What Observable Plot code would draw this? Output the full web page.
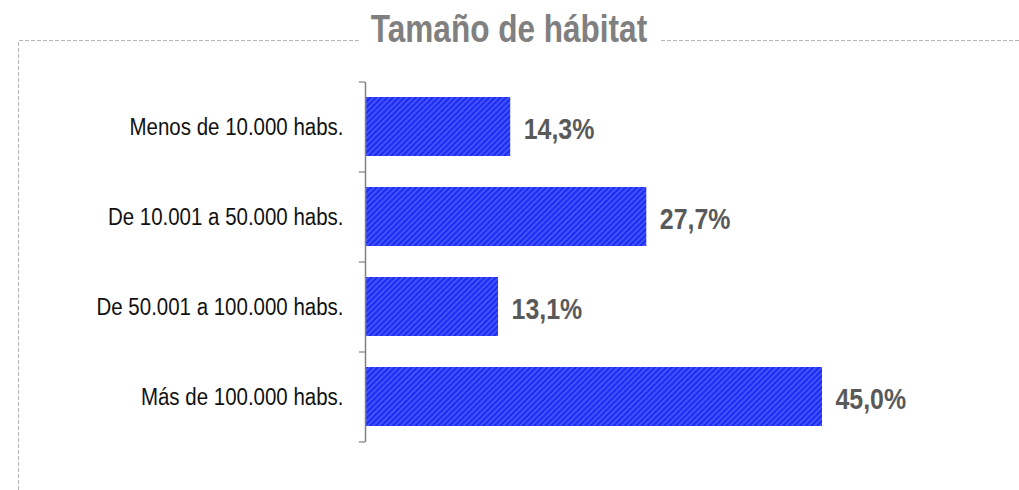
<!DOCTYPE html>
<html>
<head>
<meta charset="utf-8">
<script src="https://cdn.jsdelivr.net/npm/d3@7"></script>
<script src="https://cdn.jsdelivr.net/npm/@observablehq/plot@0.6"></script>
<style>
  html, body { margin: 0; padding: 0; background: #fff; }
  #chart { position: relative; width: 1019px; height: 490px; }
</style>
</head>
<body>
<div id="chart"></div>
<script>
const title = "Tamaño de hábitat";
const categories = ["Menos de 10.000 habs.", "De 10.001 a 50.000 habs.", "De 50.001 a 100.000 habs.", "Más de 100.000 habs."];
const values = [14.3, 27.7, 13.1, 45.0];
const valueLabels = ["14,3%", "27,7%", "13,1%", "45,0%"];

const data = categories.map((c, i) => ({category: c, value: values[i], label: valueLabels[i]}));

const font = "'Liberation Sans', Arial, sans-serif";

const plot = Plot.plot({
  width: 1019,
  height: 490,
  marginTop: 82,
  marginBottom: 48,
  marginLeft: 365,
  marginRight: 197,
  style: {fontFamily: font, background: "transparent", overflow: "visible"},
  x: {domain: [0, 45], axis: null},
  y: {domain: categories, paddingInner: 0.34, paddingOuter: 0.17, label: null},
  marks: [
    Plot.barX(data, {x: "value", y: "category", fill: "url(#stripes)"}),
    Plot.ruleX([0], {stroke: "#808080", strokeWidth: 1.5}),
    // ticks at band boundaries
    Plot.ruleY(categories, {y: d => d, x1: -0.6, x2: 0, dy: -45, stroke: "#808080", strokeWidth: 1.2}),
    Plot.ruleY([categories[categories.length - 1]], {y: d => d, x1: -0.6, x2: 0, dy: 45, stroke: "#808080", strokeWidth: 1.2}),
    Plot.axisY({tickSize: 0, tickPadding: 22, fontSize: 23, fill: "#111", label: null, dy: 1}),
    Plot.text(data, {x: "value", y: "category", text: "label", textAnchor: "start", dx: 13, dy: 2, fontSize: 30, fontWeight: "bold", fill: "#595959"})
  ]
});

document.getElementById("chart").appendChild(plot);

const svg = d3.select(plot);
const defs = svg.insert("defs", ":first-child");
const pat = defs.append("pattern")
  .attr("id", "stripes")
  .attr("patternUnits", "userSpaceOnUse")
  .attr("width", 4).attr("height", 4)
  .attr("patternTransform", "rotate(45)");
pat.append("rect").attr("width", 4).attr("height", 4).attr("fill", "#1d2cf2");
pat.append("rect").attr("width", 1.6).attr("height", 4).attr("fill", "#4a5cff");

// narrow the text horizontally (condensed look)
function squeeze(sel, factor) {
  sel.each(function() {
    const len = this.getComputedTextLength();
    this.setAttribute("textLength", (len * factor).toFixed(2));
    this.setAttribute("lengthAdjust", "spacingAndGlyphs");
  });
}
squeeze(svg.selectAll("g[aria-label='y-axis tick label'] text"), 0.89);
squeeze(svg.selectAll("g[aria-label='text'] text"), 0.83);

// dashed frame and title
const g = svg.append("g");
g.append("path")
  .attr("d", "M18.5,490 L18.5,40.5 L1019,40.5")
  .attr("fill", "none")
  .attr("stroke", "#b4b4b4")
  .attr("stroke-width", 1)
  .attr("stroke-dasharray", "4,2");
const t = g.append("text")
  .attr("x", 509).attr("y", 42)
  .attr("text-anchor", "middle")
  .attr("font-family", font)
  .attr("font-size", 38)
  .attr("font-weight", "bold")
  .attr("fill", "#808080")
  .text(title);
squeeze(t, 0.83);
const bb = t.node().getBBox();
g.insert("rect", "text")
  .attr("x", bb.x - 12).attr("y", bb.y)
  .attr("width", bb.width + 24).attr("height", bb.height)
  .attr("fill", "#fff");
</script>
</body>
</html>
